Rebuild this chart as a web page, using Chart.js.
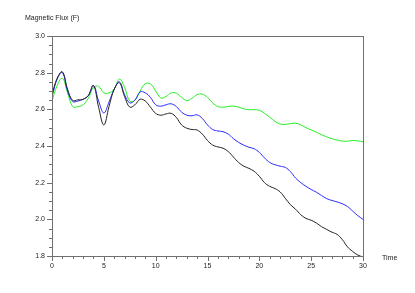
<!DOCTYPE html>
<html lang="en">
<head>
    <meta charset="UTF-8">
    <title>Magnetic Flux</title>
    <script src="https://cdn.jsdelivr.net/npm/chart.js"></script>
    <style>
        html, body { margin: 0; padding: 0; background: #fff; }
        #wrap { width: 415px; height: 293px; }
    </style>
</head>
<body>
    <div id="wrap"><canvas id="fluxChart"></canvas></div>

    <script>
        // time axis, every 0.5
        const times = [];
        for (let i = 0; i <= 60; i++) times.push(i * 0.5);

        const fluxBlack = [
            2.68, 2.77, 2.805, 2.71, 2.648, 2.652, 2.655, 2.675, 2.73, 2.61,
            2.515, 2.615, 2.71, 2.745, 2.67, 2.612, 2.625, 2.655, 2.645, 2.612,
            2.578, 2.568, 2.575, 2.578, 2.555, 2.515, 2.497, 2.49, 2.487, 2.465,
            2.43, 2.405, 2.395, 2.388, 2.37, 2.34, 2.31, 2.29, 2.278, 2.262,
            2.235, 2.2, 2.18, 2.168, 2.15, 2.115, 2.08, 2.055, 2.025, 2.005,
            1.995, 1.98, 1.96, 1.945, 1.93, 1.918, 1.89, 1.85, 1.825, 1.805,
            1.795
        ];
        const fluxBlue = [
            2.67, 2.765, 2.8, 2.7, 2.643, 2.645, 2.655, 2.675, 2.73, 2.645,
            2.58, 2.64, 2.71, 2.75, 2.68, 2.635, 2.65, 2.695, 2.69, 2.665,
            2.625, 2.617, 2.625, 2.63, 2.615, 2.585, 2.568, 2.565, 2.57, 2.55,
            2.515, 2.49, 2.482, 2.478, 2.465, 2.44, 2.42, 2.405, 2.393, 2.385,
            2.365, 2.335, 2.31, 2.298, 2.29, 2.283, 2.26, 2.225, 2.2, 2.18,
            2.163, 2.148, 2.13, 2.113, 2.103, 2.095, 2.085, 2.07, 2.045, 2.02,
            2.0
        ];
        const fluxGreen = [
            2.645, 2.73, 2.77, 2.69, 2.615, 2.615, 2.625, 2.66, 2.72, 2.725,
            2.69, 2.69, 2.71, 2.765, 2.72, 2.645, 2.65, 2.7, 2.74, 2.738,
            2.7, 2.662, 2.67, 2.69, 2.688, 2.665, 2.648, 2.66, 2.68, 2.683,
            2.665, 2.635, 2.615, 2.612, 2.615, 2.618, 2.612, 2.603, 2.598, 2.598,
            2.595, 2.578, 2.557, 2.535, 2.52, 2.518, 2.522, 2.524, 2.515, 2.5,
            2.488, 2.475, 2.462, 2.45, 2.44, 2.432, 2.427, 2.426, 2.43, 2.428,
            2.423
        ];

        const xMin = 0, xMax = 30, xStep = 1, xLabelEvery = 5;
        const yMin = 1.8, yMax = 3.0, yStep = 0.05;

        const axisColor = '#707070';
        const textColor = '#222';
        const fontFamily = 'Liberation Sans, Arial, sans-serif';

        function pts(ys) {
            return ys.map((y, i) => ({ x: times[i], y: y }));
        }

        function isMajorY(v) {
            return Math.round(v * 100) % 20 === 0;
        }

        // box, tick marks and axis titles
        const frame = {
            id: 'frame',
            afterDraw(chart) {
                const ctx = chart.ctx;
                const a = chart.chartArea;
                const xs = chart.scales.x, ys = chart.scales.y;
                ctx.save();
                ctx.strokeStyle = axisColor;
                ctx.lineWidth = 1;
                ctx.strokeRect(Math.round(a.left) + 0.5, Math.round(a.top) + 0.5,
                    Math.round(a.right - a.left), Math.round(a.bottom - a.top));

                ctx.beginPath();
                xs.ticks.forEach(t => {
                    const px = Math.round(xs.getPixelForValue(t.value)) + 0.5;
                    const len = t.value % xLabelEvery === 0 ? 5 : 3;
                    ctx.moveTo(px, a.bottom);
                    ctx.lineTo(px, a.bottom + len);
                });
                ys.ticks.forEach(t => {
                    const py = Math.round(ys.getPixelForValue(t.value)) + 0.5;
                    const len = isMajorY(t.value) ? 5 : 3;
                    ctx.moveTo(a.left, py);
                    ctx.lineTo(a.left - len, py);
                });
                ctx.stroke();

                ctx.fillStyle = textColor;
                ctx.font = '7px ' + fontFamily;
                ctx.textBaseline = 'middle';
                ctx.textAlign = 'left';
                ctx.fillText('Magnetic Flux (F)', 25, 18);
                ctx.fillText('Time', 382, 258);
                ctx.restore();
            }
        };

        new Chart(document.getElementById('fluxChart'), {
            type: 'line',
            data: {
                datasets: [
                    { label: 'black', data: pts(fluxBlack), borderColor: '#222222' },
                    { label: 'blue', data: pts(fluxBlue), borderColor: '#2a2aff' },
                    { label: 'green', data: pts(fluxGreen), borderColor: '#22ee22' }
                ]
            },
            options: {
                responsive: true,
                maintainAspectRatio: false,
                animation: false,
                events: [],
                layout: { padding: { left: 0, top: 36, right: 52, bottom: 0 } },
                elements: {
                    line: { borderWidth: 1, tension: 0.4, fill: false },
                    point: { radius: 0 }
                },
                plugins: {
                    legend: { display: false },
                    tooltip: { enabled: false }
                },
                scales: {
                    x: {
                        type: 'linear',
                        min: xMin,
                        max: xMax,
                        afterFit(s) { s.height = 37; },
                        grid: { display: false, drawTicks: false },
                        border: { display: false },
                        ticks: {
                            stepSize: xStep,
                            autoSkip: false,
                            maxRotation: 0,
                            padding: 6,
                            color: textColor,
                            font: { family: fontFamily, size: 7 },
                            callback: v => (v % xLabelEvery === 0 ? String(v) : '')
                        }
                    },
                    y: {
                        min: yMin,
                        max: yMax,
                        afterFit(s) { s.width = 52; },
                        grid: { display: false, drawTicks: false },
                        border: { display: false },
                        ticks: {
                            stepSize: yStep,
                            autoSkip: false,
                            padding: 7,
                            color: textColor,
                            font: { family: fontFamily, size: 7 },
                            callback: v => (isMajorY(v) ? v.toFixed(1) : '')
                        }
                    }
                }
            },
            plugins: [frame]
        });
    </script>
</body>
</html>
